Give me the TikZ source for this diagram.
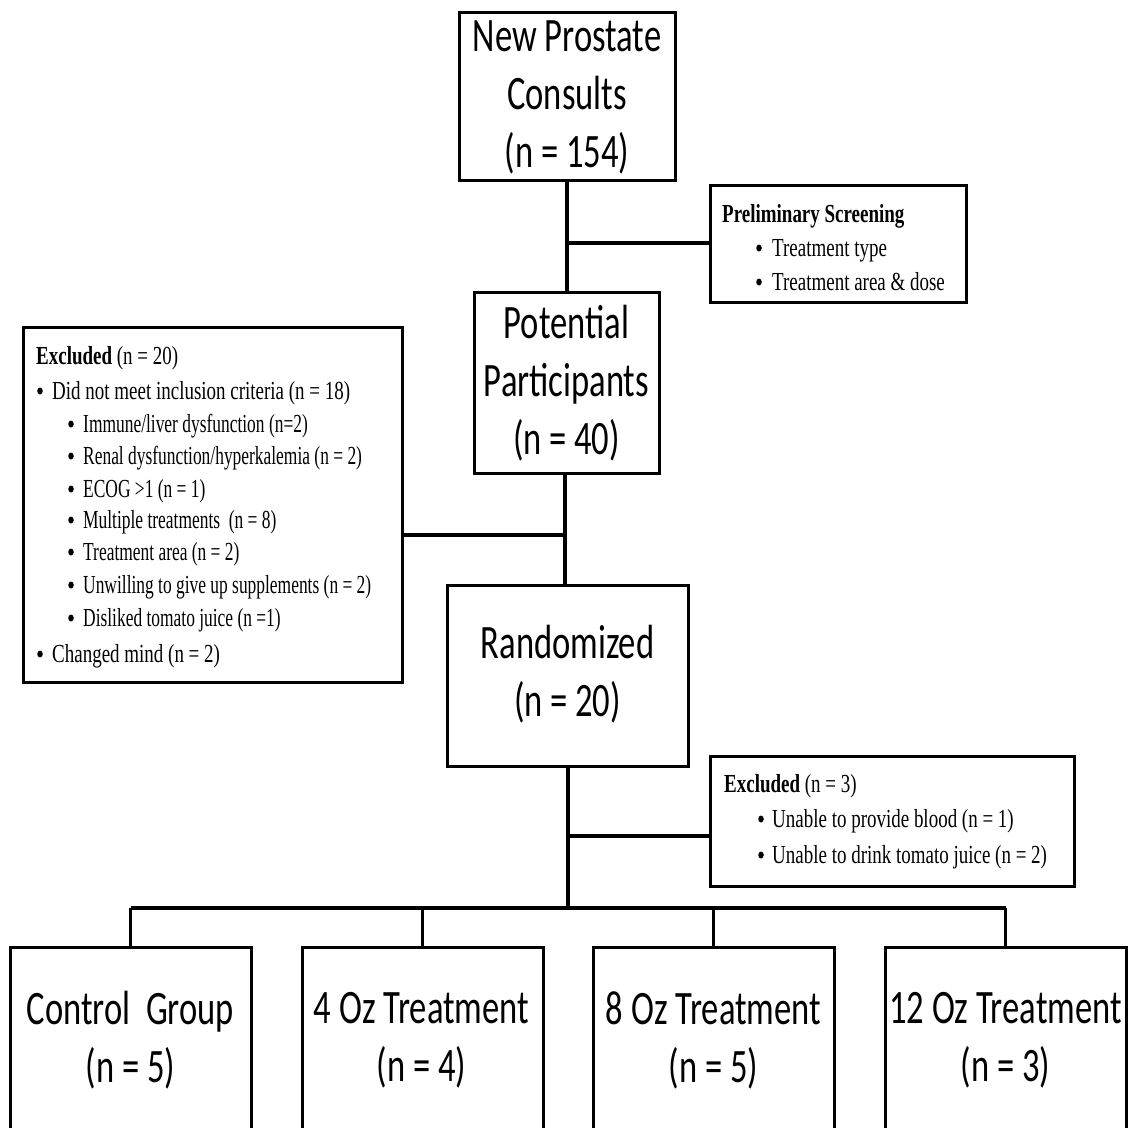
\documentclass[tikz,border=0pt]{standalone}
\usepackage{fontspec}
\usetikzlibrary{shapes.geometric}
\newfontfamily\bigf{Carlito}[FakeStretch=0.72]
\newfontfamily\smf{Liberation Serif}[FakeStretch=0.73]
\newfontfamily\smg{Liberation Serif}[FakeStretch=0.67]
\begin{document}
\begin{tikzpicture}[x=1pt,y=-1pt,
  box/.style={draw, line width=3pt, inner sep=0pt},
  big/.style={align=center, font=\bigf\fontsize{48}{58}\selectfont},
  sm/.style={anchor=base west, inner sep=0pt, font=\smf\fontsize{26}{32}\selectfont},
  smtwo/.style={anchor=base west, inner sep=0pt, font=\smg\fontsize{26}{32}\selectfont},
  conn/.style={line width=3.5pt},
  dot/.style={ellipse, fill, inner sep=0pt, minimum width=5.5pt, minimum height=7pt}]
\useasboundingbox (0,0) rectangle (1128,1128);
\fill[white] (0,0) rectangle (1128,1128);
% main boxes
\node[box, minimum width=216, minimum height=168] (consult) at (567,96) {};
\node[big] at (567,97) {New Prostate\\Consults\\(n = 154)};
\node[box, minimum width=185, minimum height=181] (potential) at (566.5,382.5) {};
\node[big] at (566.5,383.5) {Potential\\Participants\\(n = 40)};
\node[box, minimum width=241, minimum height=181] (random) at (567.5,675.5) {};
\node[big] at (567.5,674) {Randomized\\(n = 20)};
% side boxes
\node[box, minimum width=256, minimum height=117] (screen) at (838,243.5) {};
\node[box, minimum width=379, minimum height=355] (excl1) at (212.5,504.5) {};
\node[box, minimum width=364, minimum height=130] (excl2) at (892,821) {};
% bottom boxes
\node[box, minimum width=241, minimum height=190, anchor=north] (g1) at (130.5,946) {};
\node[box, minimum width=241, minimum height=190, anchor=north] (g2) at (422.5,946) {};
\node[box, minimum width=241, minimum height=190, anchor=north] (g3) at (713.5,946) {};
\node[box, minimum width=241, minimum height=190, anchor=north] (g4) at (1005.5,946) {};
\node[big] at (130.5,1040) {Control\ \ Group\\(n = 5)};
\node[big] at (421.5,1040) {4 Oz Treatment\\(n = 4)};
\node[big] at (713.5,1040) {8 Oz Treatment\\(n = 5)};
\node[big] at (1005.5,1040) {12 Oz Treatment\\(n = 3)};
% texts of screening box
\node[sm] (s0) at (722,222) {\bfseries Preliminary Screening};
\node[dot] at (759,248) {};
\node[sm] (s1) at (772,256) {Treatment type};
\node[dot] at (759,282) {};
\node[sm] (s2) at (772,290) {Treatment area \& dose};
% texts of excluded box 1
\node[sm] (e0) at (36,364) {\textbf{Excluded} (n = 20)};
\node[dot] at (40,391) {};
\node[sm] (e1) at (52,399) {Did not meet inclusion criteria (n = 18)};
\foreach \yy/\tt in {424/{Immune/liver dysfunction (n=2)},
  456/{Renal dysfunction/hyperkalemia (n = 2)},
  489/{ECOG >1 (n = 1)},
  520/{Multiple treatments\ \ (n = 8)},
  552/{Treatment area (n = 2)},
  585/{Unwilling to give up supplements (n = 2)},
  618/{Disliked tomato juice (n =1)}}{
  \node[dot] at (71,\yy) {};
  \node[smtwo] at (83,\yy+8) {\tt};
}
\node[dot] at (40,654) {};
\node[sm] (e9) at (52,662) {Changed mind (n = 2)};
% texts of excluded box 2
\node[sm] (x0) at (724,792) {\textbf{Excluded} (n = 3)};
\node[dot] at (761,819) {};
\node[sm] (x1) at (772,827) {Unable to provide blood (n = 1)};
\node[dot] at (761,855) {};
\node[sm] (x2) at (772,863) {Unable to drink tomato juice (n = 2)};
% connectors
\coordinate (j0) at (567,243);
\coordinate (j1) at (565,535);
\coordinate (j2) at (568,836);
\coordinate (bar) at (568,908);
\draw[conn] (consult.south) -- (consult.south |- potential.north);
\draw[conn] (j0) -- (screen.west |- j0);
\draw[conn] (potential.south -| j1) -- (random.north -| j1);
\draw[conn] (excl1.east |- j1) -- (j1);
\draw[conn] (random.south -| j2) -- (bar);
\draw[conn] (j2) -- (excl2.west |- j2);
\draw[line width=4.5pt] (g1.north |- bar) -- (g4.north |- bar);
\foreach \g in {g1,g2,g3,g4}{\draw[line width=2.5pt] (\g.north) -- (\g.north |- bar);}
\end{tikzpicture}
\end{document}
